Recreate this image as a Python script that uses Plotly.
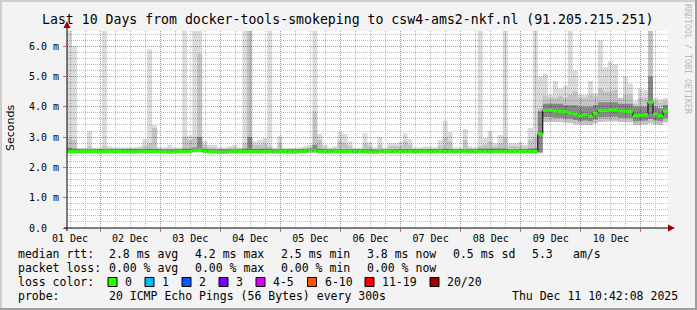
import plotly.graph_objects as go
from datetime import datetime, timedelta

# ---------------- data ----------------
START = datetime(2025, 12, 1, 10, 48)   # left edge of the graph
BIN_HOURS = 2                            # width of one consolidated step

rtt_median_ms = [
    2.52, 2.52, 2.51, 2.52, 2.52, 2.52, 2.51, 2.52, 2.52, 2.52,
    2.52, 2.52, 2.51, 2.51, 2.52, 2.52, 2.52, 2.52, 2.52, 2.51,
    2.50, 2.51, 2.52, 2.52, 2.53, 2.56, 2.57, 2.53, 2.52, 2.51,
    2.50, 2.50, 2.51, 2.52, 2.52, 2.52, 2.52, 2.52, 2.51, 2.52,
    2.52, 2.51, 2.52, 2.52, 2.51, 2.51, 2.52, 2.52, 2.55, 2.55,
    2.52, 2.52, 2.51, 2.52, 2.52, 2.52, 2.52, 2.51, 2.52, 2.52,
    2.51, 2.50, 2.52, 2.52, 2.52, 2.51, 2.52, 2.52, 2.52, 2.51,
    2.52, 2.52, 2.51, 2.52, 2.52, 2.52, 2.52, 2.51, 2.52, 2.52,
    2.51, 2.52, 2.52, 2.52, 2.51, 2.52, 2.52, 2.52, 2.51, 2.52,
    2.52, 2.52, 2.52, 2.52, 3.10, 3.88, 3.88, 3.86, 3.85, 3.84,
    3.80, 3.76, 3.70, 3.74, 3.68, 3.78, 3.87, 3.87, 3.89, 3.90,
    3.86, 3.85, 3.84, 3.70, 3.72, 3.74, 4.15, 3.76, 3.70, 3.85,
]

rtt_min_ms = [
    2.46, 2.46, 2.45, 2.46, 2.46, 2.46, 2.45, 2.46, 2.46, 2.46,
    2.46, 2.46, 2.45, 2.45, 2.46, 2.46, 2.46, 2.46, 2.46, 2.45,
    2.45, 2.45, 2.46, 2.46, 2.47, 2.49, 2.50, 2.47, 2.46, 2.45,
    2.44, 2.44, 2.45, 2.46, 2.46, 2.46, 2.46, 2.46, 2.45, 2.46,
    2.46, 2.45, 2.46, 2.46, 2.45, 2.45, 2.46, 2.46, 2.48, 2.48,
    2.46, 2.46, 2.45, 2.46, 2.46, 2.46, 2.46, 2.45, 2.46, 2.46,
    2.45, 2.44, 2.46, 2.46, 2.46, 2.45, 2.46, 2.46, 2.46, 2.45,
    2.46, 2.46, 2.45, 2.46, 2.46, 2.46, 2.46, 2.45, 2.46, 2.46,
    2.45, 2.46, 2.46, 2.46, 2.45, 2.46, 2.46, 2.46, 2.45, 2.46,
    2.46, 2.46, 2.46, 2.46, 2.46, 3.50, 3.52, 3.50, 3.50, 3.48,
    3.46, 3.42, 3.40, 3.42, 3.40, 3.45, 3.50, 3.50, 3.52, 3.52,
    3.50, 3.48, 3.48, 3.40, 3.42, 3.42, 3.45, 3.42, 3.40, 3.48,
]

rtt_p25_ms = [
    2.49, 2.49, 2.48, 2.49, 2.49, 2.49, 2.48, 2.49, 2.49, 2.49,
    2.49, 2.49, 2.48, 2.48, 2.49, 2.49, 2.49, 2.49, 2.49, 2.48,
    2.48, 2.48, 2.49, 2.49, 2.50, 2.52, 2.53, 2.50, 2.49, 2.48,
    2.47, 2.47, 2.48, 2.49, 2.49, 2.49, 2.49, 2.49, 2.48, 2.49,
    2.49, 2.48, 2.49, 2.49, 2.48, 2.48, 2.49, 2.49, 2.51, 2.51,
    2.49, 2.49, 2.48, 2.49, 2.49, 2.49, 2.49, 2.48, 2.49, 2.49,
    2.48, 2.47, 2.49, 2.49, 2.49, 2.48, 2.49, 2.49, 2.49, 2.48,
    2.49, 2.49, 2.48, 2.49, 2.49, 2.49, 2.49, 2.48, 2.49, 2.49,
    2.48, 2.49, 2.49, 2.49, 2.48, 2.49, 2.49, 2.49, 2.48, 2.49,
    2.49, 2.49, 2.49, 2.49, 2.50, 3.66, 3.66, 3.64, 3.63, 3.62,
    3.60, 3.56, 3.52, 3.55, 3.52, 3.58, 3.65, 3.65, 3.66, 3.67,
    3.64, 3.62, 3.62, 3.52, 3.53, 3.55, 3.60, 3.55, 3.52, 3.62,
]

rtt_p75_ms = [
    2.65, 2.62, 2.59, 2.60, 2.60, 2.59, 2.59, 2.61, 2.60, 2.60,
    2.59, 2.60, 2.59, 2.59, 2.60, 2.61, 2.62, 2.62, 2.60, 2.59,
    2.59, 2.59, 2.60, 2.62, 2.62, 2.66, 3.00, 2.62, 2.60, 2.59,
    2.58, 2.58, 2.59, 2.60, 2.60, 2.62, 3.00, 2.61, 2.60, 2.61,
    2.62, 2.59, 2.61, 2.60, 2.59, 2.59, 2.60, 2.60, 2.63, 2.75,
    2.62, 2.60, 2.59, 2.60, 2.61, 2.61, 2.60, 2.59, 2.60, 2.61,
    2.60, 2.58, 2.60, 2.60, 2.60, 2.59, 2.60, 2.61, 2.60, 2.59,
    2.60, 2.60, 2.59, 2.60, 2.60, 2.62, 2.61, 2.59, 2.60, 2.61,
    2.59, 2.60, 2.62, 2.60, 2.60, 2.60, 2.60, 2.62, 2.59, 2.60,
    2.60, 2.60, 2.62, 2.63, 3.85, 4.10, 4.10, 4.10, 4.10, 4.05,
    4.05, 4.05, 4.00, 4.00, 4.00, 4.05, 4.15, 4.15, 4.15, 4.15,
    4.10, 4.10, 4.10, 4.00, 4.00, 4.00, 5.00, 4.00, 3.95, 4.05,
]

rtt_p90_ms = [
    2.95, 2.90, 2.62, 2.62, 2.70, 2.62, 2.62, 2.70, 2.64, 2.62,
    2.62, 2.62, 2.62, 2.62, 2.64, 2.70, 2.80, 3.30, 2.62, 2.62,
    2.64, 2.62, 2.62, 3.00, 2.90, 3.00, 5.75, 2.75, 2.66, 2.66,
    2.62, 2.62, 2.64, 2.66, 2.62, 2.80, 6.60, 2.75, 2.75, 2.80,
    2.70, 2.62, 2.80, 2.62, 2.60, 2.62, 2.62, 2.64, 2.66, 3.85,
    2.90, 2.66, 2.62, 2.64, 2.85, 2.80, 2.70, 2.62, 2.62, 2.80,
    2.70, 2.62, 2.75, 2.62, 2.70, 2.70, 2.70, 2.85, 2.75, 2.62,
    2.62, 2.64, 2.64, 2.62, 2.70, 3.00, 2.85, 2.62, 2.62, 2.90,
    2.64, 2.62, 2.70, 2.75, 2.85, 2.70, 2.80, 3.00, 2.70, 2.70,
    2.70, 2.66, 2.90, 3.00, 3.95, 4.35, 4.30, 4.30, 4.35, 4.30,
    4.40, 4.50, 4.30, 4.30, 4.40, 4.35, 4.60, 4.50, 4.50, 4.55,
    4.30, 4.40, 4.40, 4.20, 4.30, 4.30, 6.60, 4.20, 4.15, 4.20,
]

rtt_max_ms = [
    6.60, 6.00, 2.64, 2.64, 3.20, 2.64, 2.66, 6.60, 2.70, 2.66,
    2.64, 2.66, 2.66, 2.66, 2.70, 2.93, 5.90, 3.40, 2.66, 2.66,
    2.75, 2.66, 2.66, 6.60, 3.05, 6.60, 6.60, 2.87, 2.75, 2.75,
    2.66, 2.66, 2.70, 2.75, 2.66, 6.60, 6.60, 2.85, 2.90, 2.97,
    6.60, 2.64, 3.03, 2.64, 2.62, 2.64, 2.66, 2.70, 2.75, 6.60,
    3.10, 2.75, 2.66, 2.70, 3.17, 3.10, 2.85, 2.64, 2.64, 3.13,
    2.83, 2.66, 3.00, 2.64, 2.80, 2.80, 2.83, 3.13, 2.93, 2.66,
    2.66, 2.70, 2.70, 2.66, 2.90, 3.55, 3.17, 2.66, 2.66, 3.27,
    2.70, 2.66, 6.60, 2.97, 3.20, 2.80, 3.07, 6.60, 2.80, 2.80,
    2.83, 2.75, 3.30, 6.60, 5.00, 5.10, 4.40, 4.85, 4.60, 4.70,
    6.60, 5.20, 4.40, 4.40, 4.85, 4.45, 6.20, 5.30, 5.50, 5.40,
    4.30, 5.00, 4.77, 4.10, 4.60, 4.55, 6.60, 4.30, 4.25, 4.30,
]

y_tick_values = [0, 1, 2, 3, 4, 5, 6]
y_tick_labels = ["0.0\u00a0\u00a0", "1.0 m", "2.0 m", "3.0 m", "4.0 m", "5.0 m", "6.0 m"]
day_labels = ["01 Dec", "02 Dec", "03 Dec", "04 Dec", "05 Dec",
              "06 Dec", "07 Dec", "08 Dec", "09 Dec", "10 Dec"]

title_text = "Last 10 Days from docker-tools-smokeping to csw4-ams2-nkf.nl (91.205.215.251)"
median_stats = ["2.8 ms avg", "4.2 ms max", "2.5 ms min", "3.8 ms now", "0.5 ms sd", "5.3", "am/s"]
loss_stats = ["0.00 % avg", "0.00 % max", "0.00 % min", "0.00 % now"]
loss_names = ["0", "1", "2", "3", "4-5", "6-10", "11-19", "20/20"]
loss_colors = ["#26ff00", "#00b8ff", "#0059ff", "#7e00ff", "#dd00ff", "#ff5500", "#ff0000", "#a10000"]
probe_text = "20 ICMP Echo Pings (56 Bytes) every 300s"
stamp_text = "Thu Dec 11 10:42:08 2025"

# ---------------- layout geometry ----------------
W, H = 697, 310
L, R, T, B = 67, 29, 31, 82
PW, PH = W - L - R, H - T - B
MONO = "DejaVu Sans Mono"


def px(x):
    return (x - L) / PW


def py(y):
    return (T + PH - y) / PH


n = len(rtt_median_ms)
edges = [START + timedelta(hours=BIN_HOURS * i) for i in range(n + 1)]


def step(vals):
    xs, ys = [], []
    for i, v in enumerate(vals):
        xs += [edges[i], edges[i + 1]]
        ys += [v, v]
    return xs, ys


def band(lo, hi, color):
    xh, yh = step(hi)
    xl, yl = step(lo)
    return go.Scatter(x=xh + xl[::-1], y=yh + yl[::-1], fill="toself",
                      fillcolor=color, mode="lines", line=dict(width=0),
                      hoverinfo="skip", showlegend=False)


fig = go.Figure()
fig.add_trace(band(rtt_min_ms, rtt_max_ms, "rgba(0,0,0,0.14)"))
fig.add_trace(band(rtt_min_ms, rtt_p90_ms, "rgba(0,0,0,0.11)"))
fig.add_trace(band(rtt_p25_ms, rtt_p75_ms, "rgba(0,0,0,0.30)"))

sx, sy = step(rtt_median_ms)
fig.add_trace(go.Scatter(x=sx, y=sy, mode="lines", line=dict(color="black", width=1),
                         hoverinfo="skip", showlegend=False))
gx, gy = [], []
for i, v in enumerate(rtt_median_ms):
    gx += [edges[i], edges[i + 1], None]
    gy += [v, v, None]
fig.add_trace(go.Scatter(x=gx, y=gy, mode="lines", line=dict(color=loss_colors[0], width=3),
                         hoverinfo="skip", showlegend=False))

# label axis (day names centred on noon)
noons = [datetime(2025, 12, 1, 12) + timedelta(days=i) for i in range(len(day_labels))]
fig.add_trace(go.Scatter(x=[edges[0], edges[-1]], y=[None, None], xaxis="x2",
                         mode="lines", hoverinfo="skip", showlegend=False))

grid_major = "#e28282"
grid_minor = "#bdbdbd"
dash = "1px,1px"

fig.update_layout(
    width=W, height=H,
    margin=dict(l=L, r=R, t=T, b=B, pad=0),
    paper_bgcolor="#f3f3f3", plot_bgcolor="white",
    showlegend=False,
    xaxis=dict(type="date", range=[edges[0], edges[-1]],
               tickmode="linear", tick0="2025-12-01", dtick=86400000,
               showticklabels=False, showgrid=True, gridcolor=grid_major,
               griddash=dash, gridwidth=1, ticks="outside", ticklen=3,
               tickcolor="#e06060", showline=False, zeroline=False,
               minor=dict(tickmode="linear", tick0="2025-12-01", dtick=6 * 3600000,
                          showgrid=True, gridcolor=grid_minor, griddash=dash,
                          gridwidth=1, ticks="")),
    xaxis2=dict(type="date", overlaying="x", anchor="y", side="bottom",
                range=[edges[0], edges[-1]], tickmode="array", tickvals=noons,
                ticktext=day_labels, showgrid=False, ticks="", showline=False,
                zeroline=False, tickfont=dict(family=MONO, size=10, color="black"),
                ticklabelstandoff=3),
    yaxis=dict(range=[0, 6.5], tickmode="array", tickvals=y_tick_values,
               ticktext=y_tick_labels, showgrid=True, gridcolor=grid_major,
               griddash=dash, gridwidth=1, ticks="outside", ticklen=3,
               tickcolor="#e06060", zeroline=False, showline=False,
               tickfont=dict(family=MONO, size=10, color="black"),
               ticklabelstandoff=2,
               minor=dict(tickmode="linear", tick0=0, dtick=0.2, showgrid=True,
                          gridcolor=grid_minor, griddash=dash, gridwidth=1, ticks="")),
)

shapes = []
# axes lines
shapes.append(dict(type="line", xref="paper", yref="paper", x0=px(64), x1=px(670),
                   y0=py(228), y1=py(228), line=dict(color="black", width=1), layer="above"))
shapes.append(dict(type="line", xref="paper", yref="paper", x0=px(67), x1=px(67),
                   y0=py(231), y1=py(26), line=dict(color="black", width=1), layer="above"))
# arrow heads
shapes.append(dict(type="path", xref="paper", yref="paper",
                   path=f"M {px(675)},{py(228)} L {px(668)},{py(224.5)} L {px(668)},{py(231.5)} Z",
                   fillcolor="#a00000", line=dict(width=0), layer="above"))
shapes.append(dict(type="path", xref="paper", yref="paper",
                   path=f"M {px(67)},{py(21)} L {px(63.5)},{py(28)} L {px(70.5)},{py(28)} Z",
                   fillcolor="#a00000", line=dict(width=0), layer="above"))
# frame
shapes.append(dict(type="rect", xref="paper", yref="paper", x0=px(0), x1=px(697),
                   y0=py(0), y1=py(2), fillcolor="#cfcfcf", line=dict(width=0)))
shapes.append(dict(type="rect", xref="paper", yref="paper", x0=px(0), x1=px(2),
                   y0=py(0), y1=py(310), fillcolor="#cfcfcf", line=dict(width=0)))
shapes.append(dict(type="rect", xref="paper", yref="paper", x0=px(0), x1=px(697),
                   y0=py(308), y1=py(310), fillcolor="#9e9e9e", line=dict(width=0)))
shapes.append(dict(type="rect", xref="paper", yref="paper", x0=px(695), x1=px(697),
                   y0=py(0), y1=py(310), fillcolor="#9e9e9e", line=dict(width=0)))

annotations = []


def text(x, y, s, size=11.5, anchor="left", family=MONO, color="black", angle=0):
    annotations.append(dict(x=px(x), y=py(y), xref="paper", yref="paper", text=s,
                            showarrow=False, xanchor=anchor, yanchor="middle",
                            textangle=angle,
                            font=dict(family=family, size=size, color=color)))


text(347, 19, title_text, size=13.2, anchor="center")
text(10, 128, "Seconds", size=11, anchor="center", family="DejaVu Sans", angle=-90)
text(688, 59, "RRDTOOL / TOBI OETIKER", size=8.3, anchor="center", color="#b9b9b9", angle=90)

row_y = [254, 268, 282, 296]
col_x = [107, 193, 279, 365, 451, 530, 571]
text(16, row_y[0], "median rtt:")
for s, x in zip(median_stats, col_x):
    text(x, row_y[0], s)
text(16, row_y[1], "packet loss:")
for s, x in zip(loss_stats, col_x):
    text(x, row_y[1], s)
text(16, row_y[2], "loss color:")
box_x = [108, 145, 182, 219, 256, 307.5, 365, 430]
for name, col, bx in zip(loss_names, loss_colors, box_x):
    shapes.append(dict(type="rect", xref="paper", yref="paper", x0=px(bx), x1=px(bx + 9),
                       y0=py(row_y[2] - 4.5), y1=py(row_y[2] + 4.5), fillcolor=col,
                       line=dict(color="black", width=1)))
    text(bx + 15, row_y[2], name)
text(16, row_y[3], "probe:")
text(107, row_y[3], probe_text)
text(680, row_y[3], stamp_text, anchor="right")

fig.update_layout(shapes=shapes, annotations=annotations)
fig.write_html("out.html")
